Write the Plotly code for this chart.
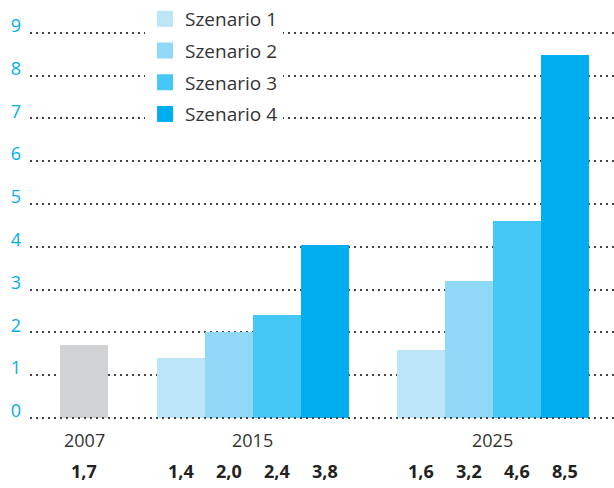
import plotly.graph_objects as go

# Daten
jahre = ["2007", "2015", "2025"]
gruppen_pos = [0, 3.5, 8.5]
szenarien = ["Szenario 1", "Szenario 2", "Szenario 3", "Szenario 4"]
wert_2007 = 1.7
label_2007 = "1,7"
balken = {
    "Szenario 1": [1.4, 1.58],
    "Szenario 2": [2.0, 3.2],
    "Szenario 3": [2.4, 4.6],
    "Szenario 4": [4.05, 8.48],
}
labels = {
    "Szenario 1": ["1,4", "1,6"],
    "Szenario 2": ["2,0", "3,2"],
    "Szenario 3": ["2,4", "4,6"],
    "Szenario 4": ["3,8", "8,5"],
}
farben = ["#BCE5F8", "#8FD8F6", "#45C8F5", "#00AEEF"]
grau = "#D1D2D4"
schrift = "Open Sans"

fig = go.Figure()

fig.add_trace(go.Bar(x=[gruppen_pos[0]], y=[wert_2007], width=1,
                     marker=dict(color=grau, line_width=0), showlegend=False))

for i, s in enumerate(szenarien):
    xs = [p + i - 1.5 for p in gruppen_pos[1:]]
    fig.add_trace(go.Bar(x=xs, y=balken[s], width=1, name=s, showlegend=False,
                         marker=dict(color=farben[i], line_width=0)))
    # Legendeneintrag mit größerem Quadrat
    fig.add_trace(go.Scatter(x=[None], y=[None], mode="markers", name=s, legendgroup=s,
                             marker=dict(symbol="square", size=16, color=farben[i])))

# Jahresbeschriftung
for j, p in zip(jahre, gruppen_pos):
    fig.add_annotation(x=p, y=0, xref="x", yref="y", text=j, showarrow=False,
                       yshift=-22, font=dict(size=18, color="#333333", family=schrift))

# Werte unter den Balken
fig.add_annotation(x=gruppen_pos[0], y=0, text="<b>" + label_2007 + "</b>", showarrow=False,
                   yshift=-53, font=dict(size=18, color="#222222", family=schrift))
for i, s in enumerate(szenarien):
    for p, t in zip(gruppen_pos[1:], labels[s]):
        fig.add_annotation(x=p + i - 1.5, y=0, text="<b>" + t + "</b>", showarrow=False,
                           yshift=-53, font=dict(size=18, color="#222222", family=schrift))

# Nulllinie gepunktet über den Balkenfüßen
fig.add_shape(type="line", xref="paper", x0=0, x1=1, yref="y", y0=0, y1=0, layer="above",
              line=dict(color="#444444", width=1.5, dash="2px,4px"))

fig.update_layout(
    width=614, height=488,
    margin=dict(l=30, r=0, t=10, b=68),
    plot_bgcolor="white", paper_bgcolor="white",
    barmode="overlay", bargap=0,
    font=dict(family=schrift, size=17, color="#333333"),
    legend=dict(x=0.197, y=1.025, xanchor="left", yanchor="top", tracegroupgap=4,
                itemsizing="trace", font=dict(size=19, color="#333333"),
                bgcolor="white"),
    xaxis=dict(range=[-1.135, 11.03], showticklabels=False, showgrid=False,
               zeroline=False, showline=False, ticks=""),
    yaxis=dict(range=[-0.05, 9.534], tickvals=list(range(10)), showgrid=True,
               gridcolor="#444444", griddash="2px,4px", gridwidth=1.5, zeroline=False,
               showline=False, ticks="", ticklabelshift=-7, ticklabelstandoff=8,
               tickfont=dict(size=18, color="#00AEEF", family=schrift)),
)

# Seitenrand entfernen, damit die Grafik bündig im Fenster sitzt
fig.write_html("out.html", config={"displayModeBar": False},
               post_script="document.body.style.margin='0';")
